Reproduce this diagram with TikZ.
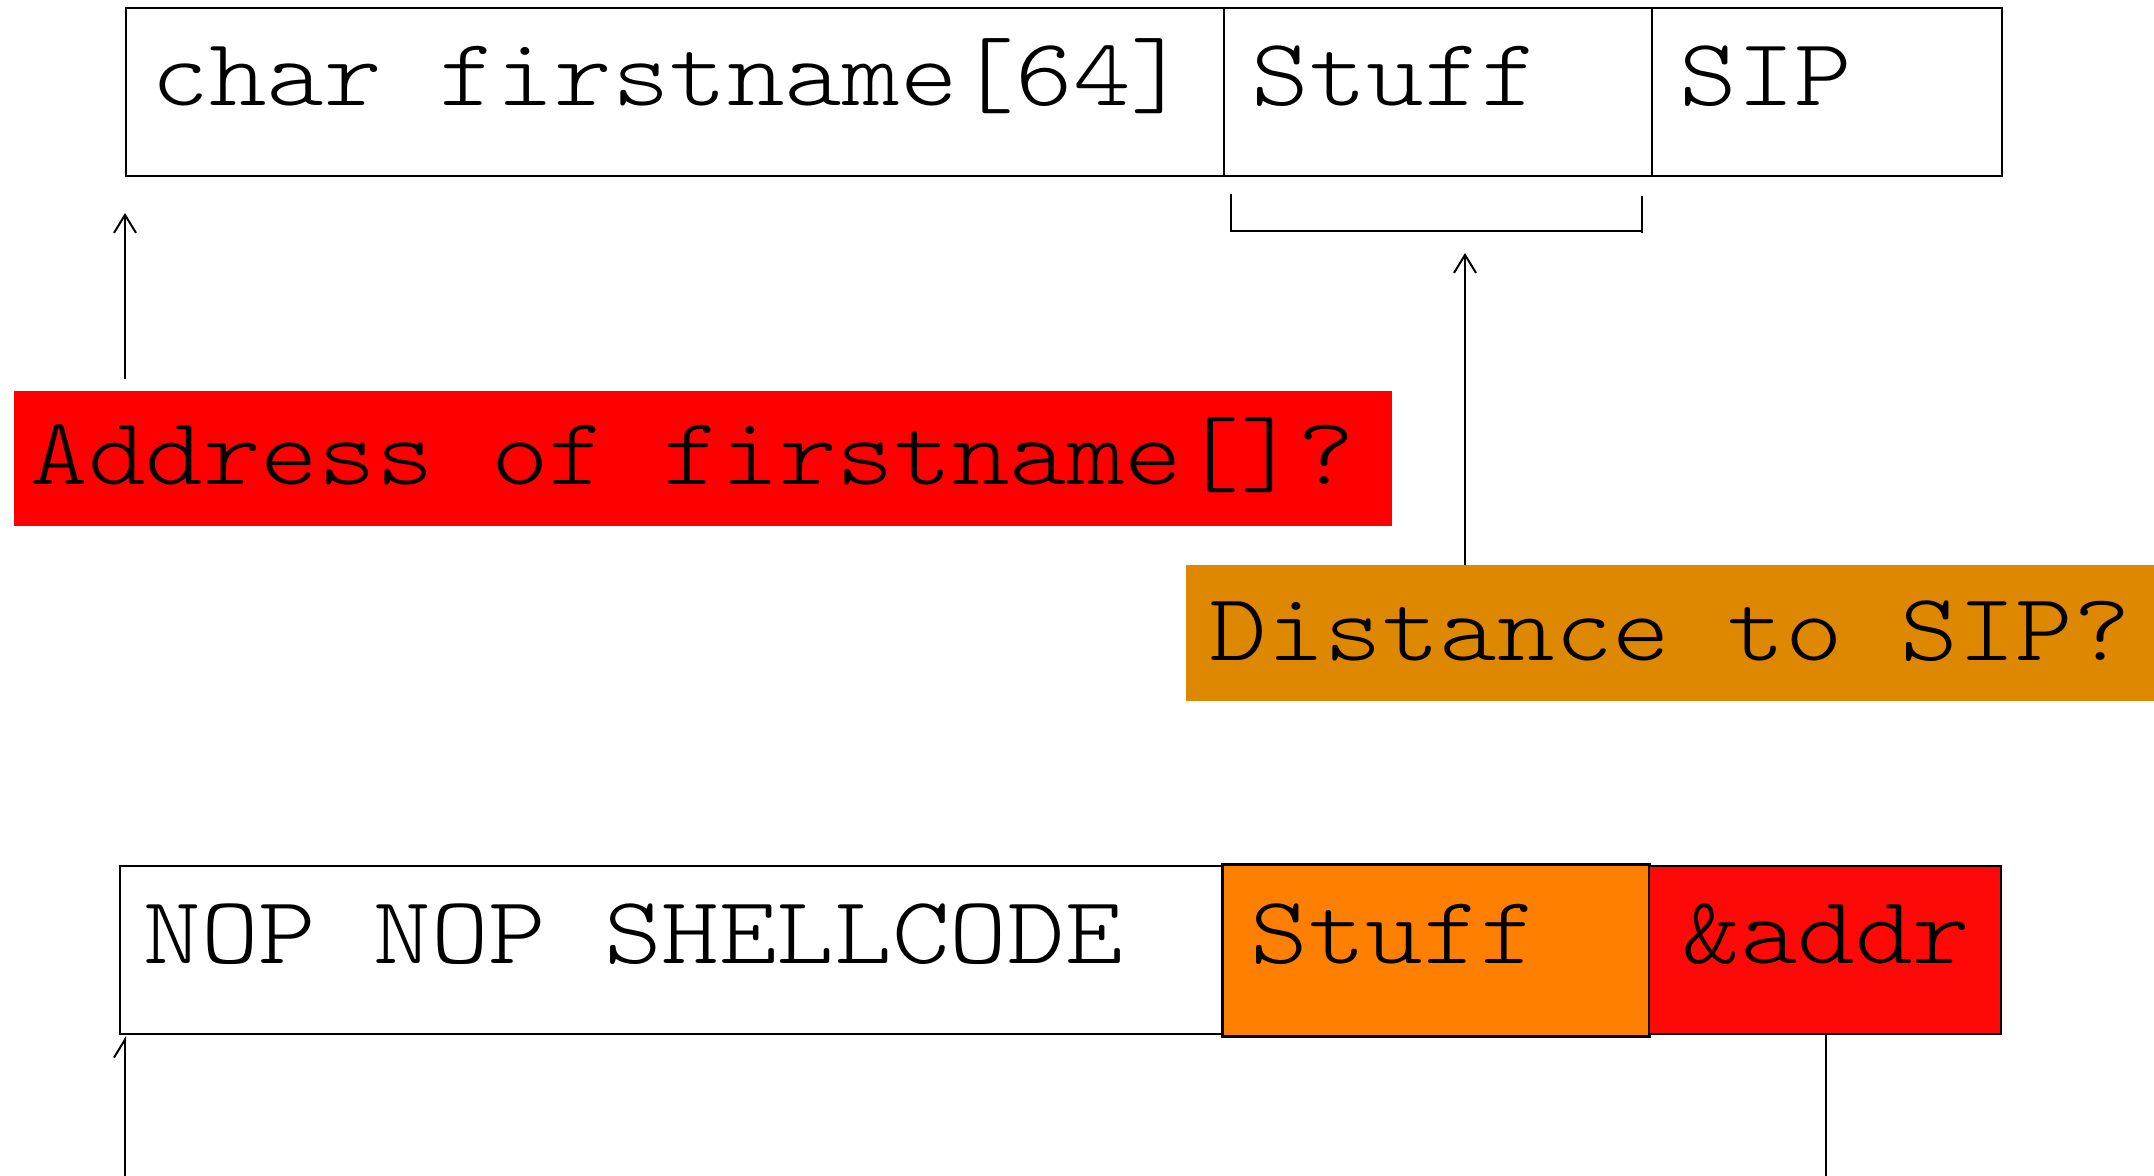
\documentclass[tikz,border=0pt]{standalone}
\usepackage{fontspec}
\setmonofont[FakeStretch=1.143]{Latin Modern Mono Light}
\usetikzlibrary{arrows.meta}
\definecolor{boxred}{HTML}{FF0000}
\definecolor{addrred}{HTML}{FF0808}
\definecolor{distorange}{HTML}{DD8800}
\definecolor{stufforange}{HTML}{FF8000}
\tikzset{
  cell/.style={draw=black, line width=1.2pt, rectangle, inner sep=0pt, anchor=north west},
  band/.style={rectangle, inner sep=0pt, anchor=north west},
  lbl/.style={font=\ttfamily\fontsize{48}{58}\selectfont, anchor=base west, inner sep=0pt},
  arr/.style={line width=1pt, -{Straight Barb[length=9pt,width=11pt,line width=1pt]}},
  halfarr/.style={line width=1pt, -{Straight Barb[left,length=9pt,width=11pt,line width=1pt]}},
  thinline/.style={line width=1pt},
}
\begin{document}
\begin{tikzpicture}[x=0.5pt,y=-0.5pt]
\useasboundingbox (0,0) rectangle (2154,1176);
% ---- top row (stack layout)
\node[cell, minimum width=549pt, minimum height=84pt] (buf) at (125,7) {};
\node[cell, minimum width=214pt, minimum height=84pt] (stuff) at (1223,7) {};
\node[cell, minimum width=175pt, minimum height=84pt] (sip) at (1651,7) {};
\node[lbl] (tbuf) at (151,106) {char firstname[64]};
\node[lbl] (tstuff) at (1251,106) {Stuff};
\node[lbl] (tsip) at (1679,106) {SIP};
% ---- bracket under Stuff
\coordinate (bl) at (1231,194);
\coordinate (blc) at (1231,231);
\coordinate (brc) at (1642,231);
\coordinate (br) at (1642,196);
\coordinate (brb) at (1642,233);
\draw[thinline] (bl) -- (blc) -- (brc);
\draw[thinline] (br) -- (brb);
% ---- question bands
\node[band, fill=boxred, minimum width=689pt, minimum height=67.5pt] (addrq) at (14,391) {};
\node[lbl] (taddrq) at (30,485) {Address of firstname[]?};
\node[band, fill=distorange, minimum width=486pt, minimum height=68pt] (distq) at (1186,565) {};
\node[lbl] (tdistq) at (1209,661) {Distance to SIP?};
% ---- arrows to top row
\coordinate (a1s) at (125,379);
\coordinate (a1e) at (125,213);
\draw[arr] (a1s) -- (a1e);
\coordinate (a2e) at (1465,253);
\draw[arr] (distq.north -| a2e) -- (a2e);
% ---- bottom row (payload)
\node[cell, minimum width=551pt, minimum height=84pt] (pbuf) at (119,865) {};
\node[cell, fill=stufforange, line width=1.5pt, minimum width=213.5pt, minimum height=86pt] (pstuff) at (1221,863) {};
\node[cell, fill=addrred, minimum width=176pt, minimum height=84pt] (paddr) at (1648,865) {};
\node[lbl] (tpbuf) at (143,963) {NOP NOP SHELLCODE};
\node[lbl] (tpstuff) at (1250,963) {Stuff};
\node[lbl] (tpaddr) at (1682,963) {\&addr};
% ---- bottom connectors
\coordinate (b1s) at (125,1176);
\coordinate (b1e) at (125,1036);
\draw[halfarr] (b1s) -- (b1e);
\coordinate (b2e) at (1826,1176);
\draw[thinline] (paddr.south -| b2e) -- (b2e);
\end{tikzpicture}
\end{document}
